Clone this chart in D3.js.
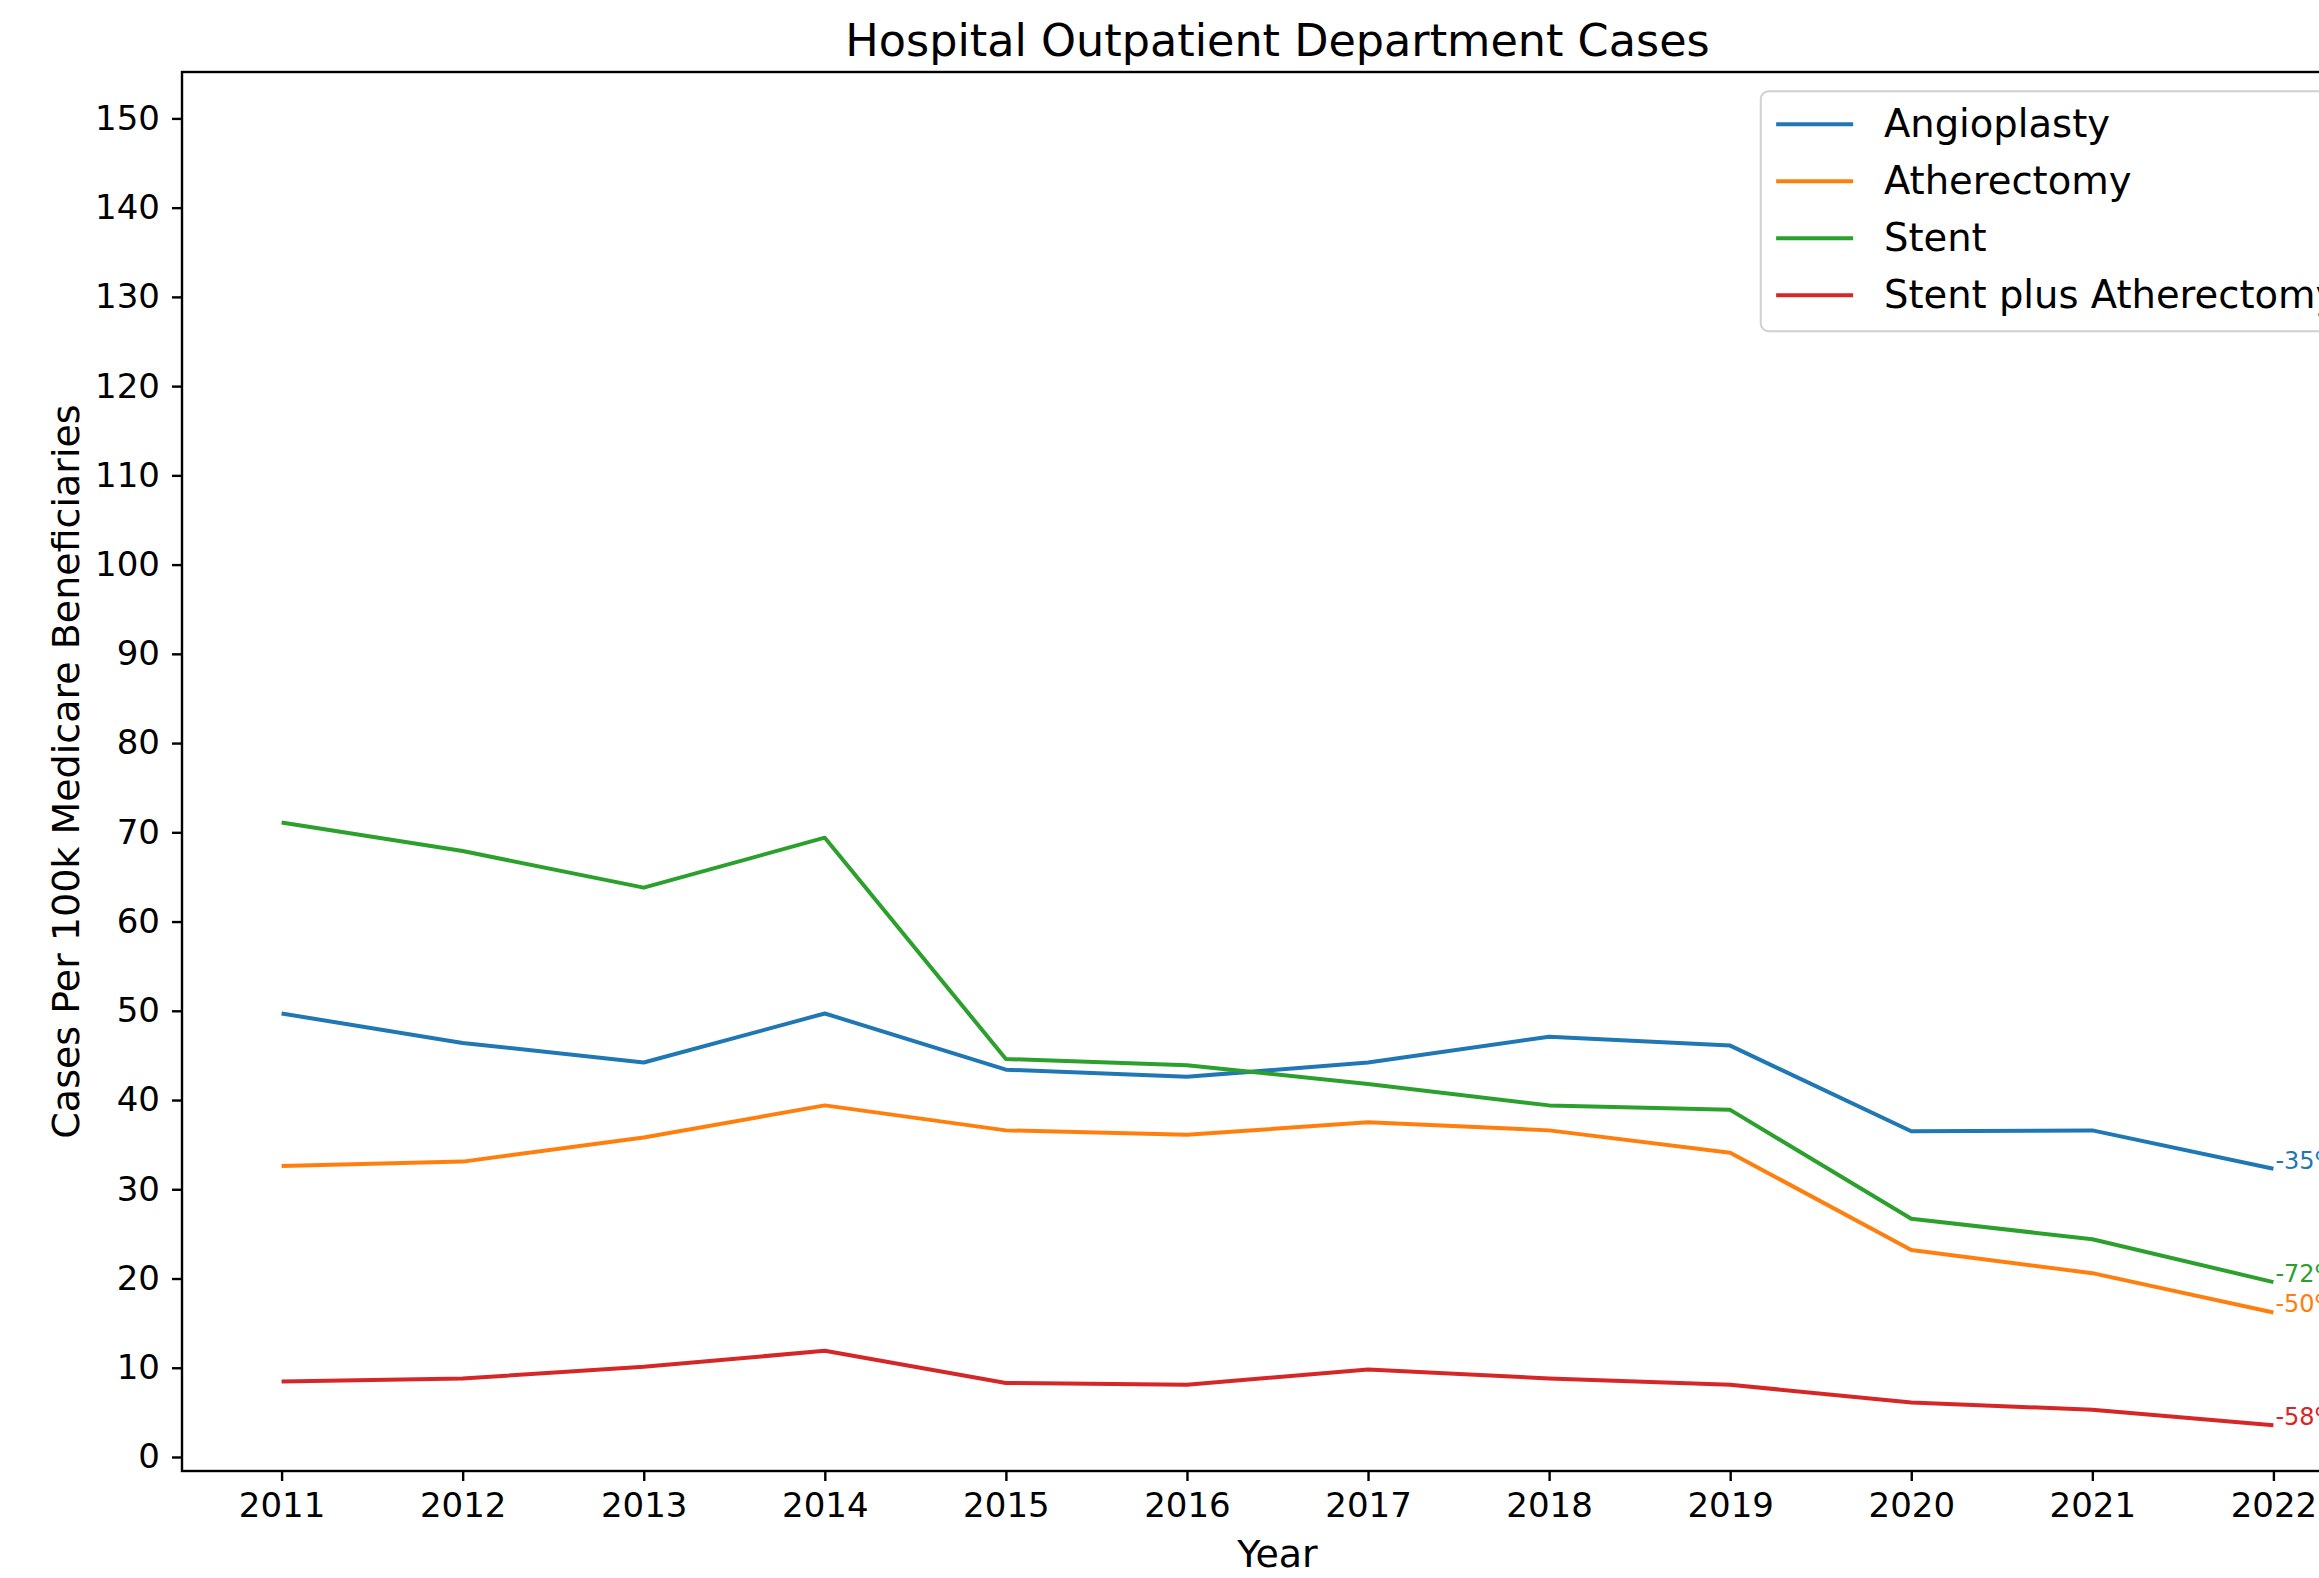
<!DOCTYPE html>
<html>
<head>
<meta charset="utf-8">
<script src="https://cdn.jsdelivr.net/npm/d3@7"></script>
<style>
  body { margin: 0; background: #fff; overflow: hidden; }
  svg { display: block; font-family: "DejaVu Sans", sans-serif; }
  .axis path, .axis line { stroke: #000; stroke-width: 2.4; }
  .axis text { fill: #000; font-size: 34px; font-family: "DejaVu Sans", sans-serif; }
</style>
</head>
<body>
<svg id="chart"></svg>
<script>
const years = [2011, 2012, 2013, 2014, 2015, 2016, 2017, 2018, 2019, 2020, 2021, 2022];
const angioplasty = [49.7, 46.4, 44.2, 49.7, 43.4, 42.6, 44.2, 47.1, 46.1, 36.5, 36.6, 32.3];
const atherectomy = [32.6, 33.1, 35.8, 39.4, 36.6, 36.1, 37.5, 36.6, 34.1, 23.2, 20.6, 16.2];
const stent = [71.1, 67.9, 63.8, 69.4, 44.6, 43.9, 41.8, 39.4, 38.9, 26.7, 24.4, 19.6];
const stentPlus = [8.45, 8.8, 10.1, 11.9, 8.3, 8.1, 9.8, 8.8, 8.1, 6.1, 5.3, 3.55];
const seriesNames = ["Angioplasty", "Atherectomy", "Stent", "Stent plus Atherectomy"];
const seriesColors = ["#1f77b4", "#ff7f0e", "#2ca02c", "#d62728"];
const yTicks = d3.range(0, 151, 10);

const width = 2319;
const height = 1578;
// axes box (right edge falls outside the picture, like the original)
const margin = { top: 72, left: 182, bottom: 1471, right: 2373 };

const svg = d3.select("#chart").attr("width", width).attr("height", height);

const x = d3.scaleLinear().domain([2010.45, 2022.55]).range([margin.left, margin.right]);
const y = d3.scaleLinear().domain([-1.57, 155.2]).range([margin.bottom, margin.top]);

const series = [angioplasty, atherectomy, stent, stentPlus].map((vals, i) => ({
  name: seriesNames[i],
  color: seriesColors[i],
  values: vals.map((v, j) => ({ year: years[j], value: v })),
}));

// spines
svg.append("rect")
  .attr("x", margin.left)
  .attr("y", margin.top)
  .attr("width", margin.right - margin.left)
  .attr("height", margin.bottom - margin.top)
  .attr("fill", "none")
  .attr("stroke", "#000")
  .attr("stroke-width", 2.4);

const xAxis = svg.append("g")
  .attr("class", "axis")
  .attr("transform", `translate(0,${margin.bottom})`)
  .call(d3.axisBottom(x).tickValues(years).tickFormat(d3.format("d")).tickSize(10).tickPadding(12));
xAxis.select(".domain").remove();

const yAxis = svg.append("g")
  .attr("class", "axis")
  .attr("transform", `translate(${margin.left},0)`)
  .call(d3.axisLeft(y).tickValues(yTicks).tickSize(10).tickPadding(12));
yAxis.select(".domain").remove();

const line = d3.line().x((d) => x(d.year)).y((d) => y(d.value));

svg.append("g")
  .selectAll("path")
  .data(series)
  .enter()
  .append("path")
  .attr("d", (d) => line(d.values))
  .attr("fill", "none")
  .attr("stroke", (d) => d.color)
  .attr("stroke-width", 4)
  .attr("stroke-linejoin", "round");

// percent change labels at the last year
svg.append("g")
  .selectAll("text")
  .data(series)
  .enter()
  .append("text")
  .attr("x", (d) => x(d.values[d.values.length - 1].year) + 2)
  .attr("y", (d) => y(d.values[d.values.length - 1].value))
  .attr("fill", (d) => d.color)
  .style("font-size", "24px")
  .text((d) => {
    const first = d.values[0].value;
    const last = d.values[d.values.length - 1].value;
    return `${Math.round(((last - first) / first) * 100)}%`;
  });

// title and axis labels
svg.append("text")
  .attr("x", (margin.left + margin.right) / 2)
  .attr("y", 56)
  .attr("text-anchor", "middle")
  .style("font-size", "44.5px")
  .text("Hospital Outpatient Department Cases");

svg.append("text")
  .attr("x", (margin.left + margin.right) / 2)
  .attr("y", 1567)
  .attr("text-anchor", "middle")
  .style("font-size", "38px")
  .text("Year");

svg.append("text")
  .attr("transform", `translate(79,${(margin.top + margin.bottom) / 2}) rotate(-90)`)
  .attr("text-anchor", "middle")
  .style("font-size", "38px")
  .text("Cases Per 100k Medicare Beneficiaries");

// legend
const fs = 38.5;
const legend = svg.append("g");
const frame = legend.append("rect");
const rows = legend.selectAll("g")
  .data(series)
  .enter()
  .append("g");
rows.append("line")
  .attr("x1", 0)
  .attr("x2", 2 * fs)
  .attr("stroke", (d) => d.color)
  .attr("stroke-width", 4);
rows.append("text")
  .attr("x", 2.8 * fs)
  .attr("y", 13)
  .style("font-size", `${fs}px`)
  .text((d) => d.name);

let maxW = 0;
rows.selectAll("text").each(function () {
  maxW = Math.max(maxW, this.getComputedTextLength());
});
const legW = 0.4 * fs * 2 + 2.8 * fs + maxW;
const legX = margin.right - 0.5 * fs - legW;
const legY = margin.top + 0.5 * fs;
frame
  .attr("x", legX)
  .attr("y", legY)
  .attr("width", legW)
  .attr("height", 240)
  .attr("rx", 8)
  .attr("fill", "#fff")
  .attr("fill-opacity", 0.8)
  .attr("stroke", "#d0d0d0")
  .attr("stroke-width", 2);
rows.attr("transform", (d, i) => `translate(${legX + 0.4 * fs},${legY + 33 + i * 57})`);
</script>
</body>
</html>
